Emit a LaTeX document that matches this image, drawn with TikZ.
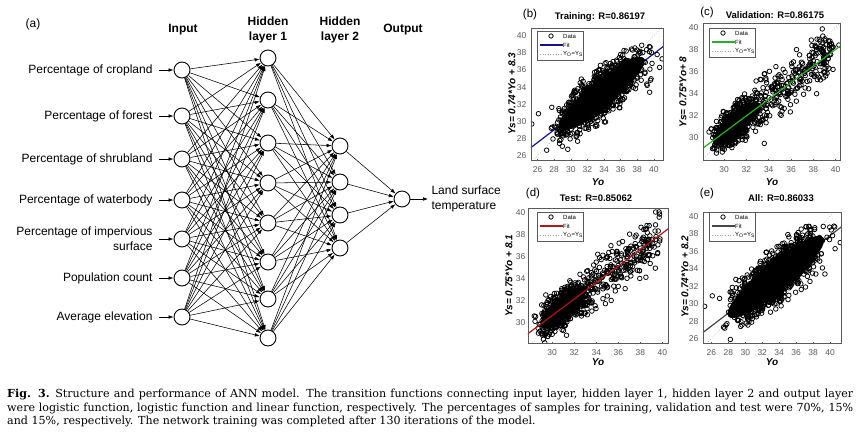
\documentclass[tikz,border=0pt]{standalone}
\usepackage{fontspec}
\setmainfont{Liberation Sans}
\newfontfamily\capfont{DejaVu Serif}
\usepackage{xcolor}
\usepackage{tikz}
\usetikzlibrary{arrows.meta}
\definecolor{fitblue}{RGB}{20, 20, 150}
\definecolor{fitgreen}{RGB}{40, 175, 40}
\definecolor{fitred}{RGB}{180, 20, 20}
\definecolor{fitgray}{RGB}{70, 70, 70}
\definecolor{axisgray}{RGB}{90, 90, 90}

\begin{document}
\begin{tikzpicture}[
    x=1pt, y=-1pt,
    neuron/.style={draw, circle, line width=0.9pt, minimum size=16pt, inner sep=0pt, fill=white},
    link/.style={-{Latex[length=5pt,width=3.6pt]}, line width=0.55pt},
    feat/.style={anchor=east, align=right, font=\fontsize{12}{15}\selectfont},
    layer/.style={align=center, font=\bfseries\fontsize{12}{14.5}\selectfont},
    ptitle/.style={font=\bfseries\fontsize{9.5}{11}\selectfont},
    pletter/.style={font=\fontsize{11.5}{13}\selectfont},
    ylab/.style={rotate=90, font=\bfseries\itshape\fontsize{10}{12}\selectfont},
    xlab/.style={font=\bfseries\itshape\fontsize{10}{12}\selectfont},
    ticklab/.style={inner sep=1.5pt, text=axisgray, font=\fontsize{8.5}{10}\selectfont},
    axbox/.style={draw=axisgray, line width=0.5pt},
    datum/.style={draw=black, line width=0.75pt},
    diag/.style={draw=gray!70, dotted, line width=0.6pt},
    fitline/.style={line width=1.2pt},
    legtext/.style={anchor=west, inner sep=1pt, font=\fontsize{6}{7}\selectfont},
]
    \useasboundingbox (0,0) rectangle (865,439);
    \fill[white] (0,0) rectangle (865,439);
    \pgfmathsetseed{7}

    \node[font=\fontsize{12}{14}\selectfont] (tag) at (33,24) {(a)};
    \node[layer] (tin) at (183,30) {Input};
    \node[layer] (th1) at (268,30) {Hidden\\layer 1};
    \node[layer] (th2) at (340,30) {Hidden\\layer 2};
    \node[layer] (tout) at (403,30) {Output};

    \foreach \y/\txt [count=\i] in {70/Percentage of cropland, 116/Percentage of forest, 159/Percentage of shrubland, 200/Percentage of waterbody, 239/{Percentage of impervious\\surface}, 278/Population count, 317/Average elevation} {
        \node[neuron] (in\i) at (182,\y) {};
        \node[feat] (f\i) at (156,\y) {\txt};
    }
    \foreach \y [count=\j] in {58,100,143,183,223,262,299,338}
        \node[neuron] (ha\j) at (268,\y) {};
    \foreach \y [count=\k] in {146,182,215,248}
        \node[neuron] (hb\k) at (340,\y) {};
    \node[neuron] (out) at (402,199) {};
    \node[anchor=west, align=left, font=\fontsize{12}{15}\selectfont] (lst) at (428,199) {Land surface\\temperature};

    \foreach \i in {1,...,7} {
        \draw[link, shorten <=3pt] (f\i.east) -- (in\i);
        \foreach \j in {1,...,8}
            \draw[link] (in\i) -- (ha\j);
    }
    \foreach \j in {1,...,8}
        \foreach \k in {1,...,4}
            \draw[link] (ha\j) -- (hb\k);
    \foreach \k in {1,...,4}
        \draw[link] (hb\k) -- (out);
    \draw[link] (out) -- (lst.west);

    \begin{scope}[shift={(321.8,378.5)}, x=8.30pt, y=8.57pt]
        \begin{scope}
            \clip (25.2,25.5) rectangle (41.1,40.9);
            \draw[fitline, fitblue] (25,{0.74*25+8.3}) -- (42,{0.74*42+8.3});
            \draw[diag] (25,25) -- (42,42);
            \fill[black] plot[domain=0:350, samples=36, smooth cycle] ({33.7+5.2*cos(\x)}, {min(0.74*(33.7+5.2*cos(\x))+8.3+1.9*sin(\x),38.3)});
            \foreach \n in {1,...,1100} {
                \pgfmathsetmacro{\xo}{33.6+2.4*(rand+rand+rand)}
                \pgfmathsetmacro{\ys}{min(0.74*\xo+8.3+1.35*(rand+rand+rand),38.6+0.3*rand)}
                \draw[datum] (\xo,\ys) circle[radius=2.3pt];
            }
            \foreach \p in {(25.3,29.7),(26.1,30.9),(39.2,34.2),(39.5,33.4),(40.7,36.3),(40.4,37.8),(41,37.3),(39.6,34.8)}
                \draw[datum] \p circle[radius=2.3pt];
        \end{scope}
        \draw[axbox] (25.2,25.5) rectangle (41.1,40.9);
        \foreach \t in {26,28,...,40} {
            \draw[axbox] (\t,25.5) -- ++(0,0.15);
            \draw[axbox] (25.2,\t) -- ++(0.15,0);
            \node[ticklab, below=5pt] (bx\t) at (\t,25.5) {\t};
            \node[ticklab, left=3pt] (by\t) at (25.2,\t) {\t};
        }
    \end{scope}

    \begin{scope}[shift={(389.97,469.4)}, x=11.14pt, y=11.05pt]
        \begin{scope}
            \clip (28.1,28) rectangle (40.4,40.4);
            \draw[diag] (25,25) -- (42,42);
            \fill[black] plot[domain=0:350, samples=36, smooth cycle] ({31.1+2.1*cos(\x)}, {0.75*(31.1+2.1*cos(\x))+8+1.1*sin(\x)});
            \foreach \n in {1,...,620} {
                \pgfmathsetmacro{\xo}{31+0.95*(rand+rand+rand)}
                \pgfmathsetmacro{\ys}{0.75*\xo+8+0.8*(rand+rand+rand)}
                \draw[datum] (\xo,\ys) circle[radius=2.3pt];
            }
            \foreach \n in {1,...,260} {
                \pgfmathsetmacro{\xo}{32.8+3.5*(1+rand)}
                \pgfmathsetmacro{\ys}{0.75*\xo+8+1.1*(rand+rand+rand)}
                \draw[datum] (\xo,\ys) circle[radius=2.3pt];
            }
            \foreach \p in {(33.6,29.5),(38.3,34),(40.3,38.4),(39.6,38.5)}
                \draw[datum] \p circle[radius=2.3pt];
            \draw[fitline, fitgreen] (25,{0.75*25+8}) -- (42,{0.75*42+8});
        \end{scope}
        \draw[axbox] (28.1,28) rectangle (40.4,40.4);
        \foreach \t in {30,32,...,40} {
            \draw[axbox] (\t,28) -- ++(0,0.12);
            \draw[axbox] (28.1,\t) -- ++(0.12,0);
            \node[ticklab, below=5pt] (cx\t) at (\t,28) {\t};
            \node[ticklab, left=3pt] (cy\t) at (28.1,\t) {\t};
        }
    \end{scope}

    \begin{scope}[shift={(221.6,651.5)}, x=11.02pt, y=10.98pt]
        \begin{scope}
            \clip (27.8,28.1) rectangle (40.5,40.4);
            \draw[diag] (25,25) -- (42,42);
            \fill[black] plot[domain=0:350, samples=36, smooth cycle] ({31+2.1*cos(\x)}, {0.75*(31+2.1*cos(\x))+8.1+1.1*sin(\x)});
            \foreach \n in {1,...,620} {
                \pgfmathsetmacro{\xo}{30.9+0.95*(rand+rand+rand)}
                \pgfmathsetmacro{\ys}{0.75*\xo+8.1+0.8*(rand+rand+rand)}
                \draw[datum] (\xo,\ys) circle[radius=2.3pt];
            }
            \foreach \n in {1,...,260} {
                \pgfmathsetmacro{\xo}{32.6+3.6*(1+rand)}
                \pgfmathsetmacro{\ys}{0.75*\xo+8.1+1.1*(rand+rand+rand)}
                \draw[datum] (\xo,\ys) circle[radius=2.3pt];
            }
            \foreach \p in {(31.3,28.8),(29.6,28.7),(38.6,38.8),(37.4,35.6)}
                \draw[datum] \p circle[radius=2.3pt];
            \draw[fitline, fitred] (25,{0.75*25+8.1}) -- (42,{0.75*42+8.1});
        \end{scope}
        \draw[axbox] (27.8,28.1) rectangle (40.5,40.4);
        \foreach \t in {30,32,...,40} {
            \draw[axbox] (\t,28.1) -- ++(0,0.12);
            \draw[axbox] (27.8,\t) -- ++(0.12,0);
            \node[ticklab, below=5pt] (dx\t) at (\t,28.1) {\t};
            \node[ticklab, left=1pt] (dy\t) at (27.8,\t) {\t};
        }
    \end{scope}

    \begin{scope}[shift={(491.2,565.6)}, x=8.47pt, y=8.73pt]
        \begin{scope}
            \clip (25,25.5) rectangle (41.3,40.5);
            \draw[fitline, fitgray] (25,{0.74*25+8.2}) -- (42,{0.74*42+8.2});
            \draw[diag] (25,25) -- (42,42);
            \fill[black] plot[domain=0:350, samples=36, smooth cycle] ({33.6+5.7*cos(\x)}, {min(0.74*(33.6+5.7*cos(\x))+8.2+2.1*sin(\x),38.4)});
            \foreach \n in {1,...,1300} {
                \pgfmathsetmacro{\xo}{33.5+2.4*(rand+rand+rand)}
                \pgfmathsetmacro{\ys}{min(0.74*\xo+8.2+1.4*(rand+rand+rand),38.6+0.3*rand)}
                \draw[datum] (\xo,\ys) circle[radius=2.3pt];
            }
            \foreach \p in {(25.2,29.7),(26.1,30.9),(33.6,29.4),(31.1,28.7),(39.4,33.4),(39.1,34.1),(40.6,36.3),(41.2,37),(40.3,37.8)}
                \draw[datum] \p circle[radius=2.3pt];
        \end{scope}
        \draw[axbox] (25,25.5) rectangle (41.3,40.5);
        \foreach \t in {26,28,...,40} {
            \draw[axbox] (\t,25.5) -- ++(0,0.15);
            \draw[axbox] (25,\t) -- ++(0.15,0);
            \node[ticklab, below=5pt] (ex\t) at (\t,25.5) {\t};
            \node[ticklab, left=3pt] (ey\t) at (25,\t) {\t};
        }
    \end{scope}

    \foreach \lx/\ly/\fc/\nm in {537/31/fitblue/b, 709/28/fitgreen/c, 537/212/fitred/d, 709/212/fitgray/e} {
        \draw[fill=white, draw=axisgray, line width=0.4pt] (\lx,\ly) rectangle ++(46,29);
        \draw[datum] (\lx+14,\ly+5) circle[radius=2.2pt];
        \node[legtext] (dat\nm) at (\lx+25,\ly+5) {Data};
        \draw[\fc, line width=1.1pt] (\lx+3,\ly+14) -- ++(23,0);
        \node[legtext] (fit\nm) at (\lx+25,\ly+14) {Fit};
        \draw[diag] (\lx+3,\ly+23) -- ++(23,0);
        \node[legtext] (one\nm) at (\lx+25,\ly+23) {Y\textsubscript{O}=Y\textsubscript{S}};
    }

    \node[pletter] (pb) at (530,15) {(b)};
    \node[ptitle] (tb) at (600,17) {Training: R=0.86197};
    \node[ylab] (yb) at (512,94) {Ys= 0.74*Yo + 8.3};
    \node[xlab] (xb) at (598,182) {Yo};

    \node[pletter] (pc) at (707,13) {(c)};
    \node[ptitle] (tc) at (775,15) {Validation: R=0.86175};
    \node[ylab] (yc) at (683,92) {Ys= 0.75*Yo+ 8};
    \node[xlab] (xc) at (772,182) {Yo};

    \node[pletter] (pd) at (533,194) {(d)};
    \node[ptitle] (td) at (596,198) {Test: R=0.85062};
    \node[ylab] (yd) at (509,276) {Ys= 0.75*Yo + 8.1};
    \node[xlab] (xd) at (598,362) {Yo};

    \node[pletter] (pe) at (707,194) {(e)};
    \node[ptitle] (te) at (781,198) {All: R=0.86033};
    \node[ylab] (ye) at (685,277) {Ys= 0.74*Yo + 8.2};
    \node[xlab] (xe) at (772,362) {Yo};

    \node[anchor=north west, inner sep=0pt, text width=846pt, align=justify, font=\capfont\fontsize{11.1}{13.5}\selectfont] (cap) at (7,389) {\hyphenpenalty=10000\textbf{Fig. 3.}\enspace Structure and performance of ANN model. The transition functions connecting input layer, hidden layer 1, hidden layer 2 and output layer\linebreak were logistic function, logistic function and linear function, respectively. The percentages of samples for training, validation and test were 70\%, 15\%\linebreak and 15\%, respectively. The network training was completed after 130 iterations of the model.};
\end{tikzpicture}
\end{document}
